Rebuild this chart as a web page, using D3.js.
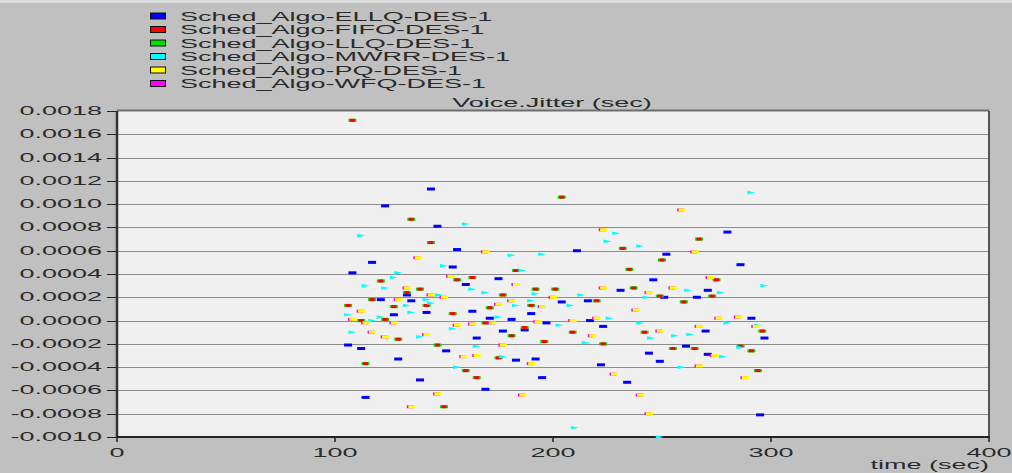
<!DOCTYPE html>
<meta charset="utf-8">
<style>
body { margin: 0; background-color: #c0c0c0; }
svg { display: block; }
text { font-family: "Liberation Sans", Arial, sans-serif; font-size: 12px; fill: #2a2a2a; }
</style>
<body>
<script src="https://cdn.jsdelivr.net/npm/d3@7"></script>
<script>
// series names and colours, as in the legend
var seriesNames = ["Sched_Algo-ELLQ-DES-1", "Sched_Algo-FIFO-DES-1", "Sched_Algo-LLQ-DES-1",
                   "Sched_Algo-MWRR-DES-1", "Sched_Algo-PQ-DES-1", "Sched_Algo-WFQ-DES-1"];
var seriesColors = ["#0000ff", "#ff0000", "#00e000", "#00ffff", "#ffff00", "#ff00ff"];

var yTicks = [-0.0010, -0.0008, -0.0006, -0.0004, -0.0002, 0, 0.0002, 0.0004, 0.0006, 0.0008,
              0.0010, 0.0012, 0.0014, 0.0016, 0.0018];
var xTicks = [0, 100, 200, 300, 400];

// [time (sec), jitter (sec)]
var ellq = [
  [108, 0.00041], [117, 0.00050], [123, 0.000985], [144, 0.00113], [147, 0.00081], [156, 0.00061],
  [154, 0.00046], [121, 0.00018], [133, 0.00022], [135, 0.00017], [127, 0.00005], [142, 0.00007],
  [106, -0.00021], [112, -0.00024], [129, -0.00033], [139, -0.00051], [114, -0.00066],
  [175, 0.00036], [160, 0.00031], [163, 0.00008], [190, 0.00006], [171, 0.00002], [181, 0.00001],
  [187, -0.00008], [177, -0.00009], [165, -0.00015], [151, -0.00026], [183, -0.00034],
  [192, -0.00033], [195, -0.00049], [169, -0.00059], [211, 0.00060],
  [252, 0.00057], [246, 0.00035], [231, 0.00026], [271, 0.00026], [266, 0.00020], [251, 0.00020],
  [216, 0.00017], [204, 0.00016], [280, 0.00076], [286, 0.00048],
  [197, -0.00002], [217, 0.00000], [223, -0.00005], [270, -0.00009], [291, 0.00002], [297, -0.00015],
  [222, -0.00038], [234, -0.00053], [244, -0.00028], [249, -0.00035], [261, -0.00022],
  [271, -0.00029], [295, -0.00081]
];
var fifo = [
  [108, 0.00172], [135, 0.00087], [144, 0.00067], [121, 0.00034], [139, 0.00027], [133, 0.00024],
  [117, 0.00018], [106, 0.00013], [127, 0.00012], [142, 0.00013], [112, 0.00000], [123, 0.00001],
  [129, -0.00016], [147, -0.00021], [114, -0.00037], [150, -0.00074],
  [183, 0.00043], [163, 0.00037], [156, 0.00035], [192, 0.00027], [177, 0.00022], [190, 0.00013],
  [171, 0.00011], [154, 0.00006], [169, -0.00002], [187, -0.00006], [181, -0.00013], [196, -0.00018],
  [175, -0.00032], [160, -0.00043], [165, -0.00049],
  [204, 0.00106], [232, 0.00062], [235, 0.00044], [250, 0.00052], [267, 0.00070], [237, 0.00028],
  [201, 0.00027], [275, 0.00035], [273, 0.00021], [260, 0.00016], [249, 0.00021], [220, 0.00017],
  [209, -0.00010], [242, -0.00010], [296, -0.00009], [223, -0.00020], [255, -0.00024],
  [265, -0.00024], [286, -0.00022], [291, -0.00026], [294, -0.00043]
];
var llq = fifo;   // LLQ sits exactly under FIFO in the picture
var mwrr = [
  [112, 0.00073], [129, 0.00041], [127, 0.00037], [114, 0.00030], [123, 0.00028], [147, 0.00022],
  [142, 0.00018], [144, 0.00015], [133, 0.00013], [106, 0.00005], [135, 0.00007], [121, 0.00003],
  [117, 0.00000], [108, -0.00010], [139, -0.00014],
  [160, 0.00083], [181, 0.00056], [195, 0.00057], [150, 0.00047], [186, 0.00043], [163, 0.00027],
  [169, 0.00024], [192, 0.00023], [148, 0.00022], [190, 0.00017], [183, 0.00013], [175, 0.00003],
  [154, -0.00007], [165, -0.00022], [177, -0.00031], [156, -0.00040],
  [229, 0.00075], [225, 0.00068], [240, 0.00064], [291, 0.00110], [297, 0.00030], [213, 0.00022],
  [208, 0.00013], [262, 0.00026], [277, 0.00024], [243, 0.00020],
  [203, -0.00004], [226, 0.00002], [240, -0.00002], [245, -0.00015], [256, -0.00013],
  [280, -0.00002], [294, -0.00004], [215, -0.00019], [263, -0.00012], [259, -0.00040],
  [278, -0.00031], [286, -0.00023], [210, -0.00092], [249, -0.00100]
];
var pq = [
  [138, 0.00054], [133, 0.00028], [144, 0.00022], [129, 0.00018], [112, 0.00008], [108, 0.00001],
  [114, -0.00002], [127, -0.00002], [117, -0.00010], [123, -0.00014], [142, -0.00012],
  [147, -0.00063], [135, -0.00074],
  [169, 0.00059], [153, 0.00038], [183, 0.00031], [150, 0.00020], [181, 0.00017], [175, 0.00014],
  [195, 0.00012], [172, -0.00002], [193, -0.00001], [163, -0.00003], [156, -0.00004],
  [177, -0.00021], [159, -0.00031], [165, -0.00030], [190, -0.00037], [186, -0.00064],
  [223, 0.00078], [259, 0.00095], [265, 0.00059], [223, 0.00028], [255, 0.00028], [272, 0.00037],
  [244, 0.00024], [200, 0.00020],
  [209, 0.00000], [220, 0.00002], [238, 0.00009], [249, -0.00009], [267, -0.00005], [276, 0.00002],
  [285, 0.00003], [293, -0.00005], [218, -0.00013], [228, -0.00046], [240, -0.00064],
  [244, -0.00080], [267, -0.00039], [274, -0.00030], [288, -0.00049]
];
var wfq = pq;     // WFQ sits exactly under PQ in the picture

var W = 1012, H = 473;
var plot = {left: 117, right: 989, top: 111, bottom: 437};

var svg = d3.select("body").append("svg")
    .attr("width", W)
    .attr("height", H);

svg.append("rect").attr("width", W).attr("height", 3).attr("fill", "#dcdcdc");

var x = d3.scaleLinear().domain([0, 400]).range([plot.left, plot.right]);
var y = d3.scaleLinear().domain([-0.0010, 0.0018]).range([plot.bottom, plot.top]);

// the original picture is stretched sideways, so every text is widened
var stretch = 2.25;
function widen(sel) {
  sel.each(function() {
    var w = this.getComputedTextLength();
    d3.select(this).attr("textLength", w * stretch).attr("lengthAdjust", "spacingAndGlyphs");
  });
}

// plot background
svg.append("rect")
    .attr("x", plot.left).attr("y", plot.top)
    .attr("width", plot.right - plot.left).attr("height", plot.bottom - plot.top)
    .attr("fill", "#f0f0f0");

// horizontal grid
svg.append("g").selectAll("line")
    .data(yTicks.slice(1, -1))
    .enter().append("line")
    .attr("x1", plot.left).attr("x2", plot.right)
    .attr("y1", function(d) { return Math.round(y(d)) + 0.5; })
    .attr("y2", function(d) { return Math.round(y(d)) + 0.5; })
    .attr("stroke", "#8c8c8c");

// frame
svg.append("line").attr("x1", plot.left).attr("x2", plot.right)
    .attr("y1", plot.top - 0.5).attr("y2", plot.top - 0.5)
    .attr("stroke", "#6e6e6e").attr("stroke-width", 2);
svg.append("line").attr("x1", plot.right).attr("x2", plot.right)
    .attr("y1", plot.top).attr("y2", plot.bottom)
    .attr("stroke", "#555").attr("stroke-width", 2);

// y axis
var yAxis = svg.append("g");
yAxis.selectAll(".ytick")
    .data(yTicks)
    .enter().append("line")
    .attr("class", "ytick")
    .attr("x1", plot.left - 10).attr("x2", plot.left)
    .attr("y1", function(d) { return Math.round(y(d)) + 0.5; })
    .attr("y2", function(d) { return Math.round(y(d)) + 0.5; })
    .attr("stroke", "#222");
var fmt = d3.format(".4f");
yAxis.selectAll(".ylabel")
    .data(yTicks)
    .enter().append("text")
    .attr("class", "ylabel")
    .attr("x", plot.left - 15)
    .attr("y", function(d) { return y(d) + 4; })
    .attr("text-anchor", "end")
    .text(function(d) { return fmt(d).replace("\u2212", "-"); })
    .call(widen);
svg.append("line").attr("x1", plot.left).attr("x2", plot.left)
    .attr("y1", plot.top).attr("y2", plot.bottom + 1)
    .attr("stroke", "#333").attr("stroke-width", 2.5);

// x axis
var xAxis = svg.append("g");
xAxis.selectAll(".xtick")
    .data(xTicks)
    .enter().append("line")
    .attr("class", "xtick")
    .attr("x1", function(d) { return x(d); }).attr("x2", function(d) { return x(d); })
    .attr("y1", plot.bottom).attr("y2", plot.bottom + 5)
    .attr("stroke", "#222").attr("stroke-width", 1.5);
xAxis.selectAll(".xlabel")
    .data(xTicks)
    .enter().append("text")
    .attr("class", "xlabel")
    .attr("x", function(d) { return x(d); })
    .attr("y", plot.bottom + 20)
    .attr("text-anchor", "middle")
    .text(function(d) { return d; })
    .call(widen);
svg.append("line").attr("x1", plot.left).attr("x2", plot.right + 1)
    .attr("y1", plot.bottom).attr("y2", plot.bottom)
    .attr("stroke", "#222").attr("stroke-width", 2);
svg.append("text")
    .attr("x", plot.right).attr("y", plot.bottom + 32)
    .attr("text-anchor", "end")
    .text("time (sec)")
    .call(widen);

// title
svg.append("text")
    .attr("x", (plot.left + plot.right) / 2 - 1).attr("y", plot.top - 4)
    .attr("text-anchor", "middle")
    .text("Voice.Jitter (sec)")
    .call(widen);

// points
var marks = svg.append("g");
function dashes(data, color, w, h, dx) {
  marks.append("g").selectAll("rect")
      .data(data)
      .enter().append("rect")
      .attr("x", function(d) { return x(d[0]) - w / 2 + dx; })
      .attr("y", function(d) { return y(d[1]) - h / 2; })
      .attr("width", w).attr("height", h)
      .attr("fill", color);
}
dashes(ellq, seriesColors[0], 8, 3, 0);
dashes(llq, seriesColors[2], 8, 3, 0);
dashes(fifo, seriesColors[1], 5, 3, 0);
marks.append("g").selectAll("path")
    .data(mwrr)
    .enter().append("path")
    .attr("d", function(d) {
      var cx = x(d[0]), cy = y(d[1]);
      return "M" + (cx - 4) + "," + (cy - 1.8) + "L" + (cx + 4) + "," + cy + "L" + (cx - 4) + "," + (cy + 1.8) + "Z";
    })
    .attr("fill", seriesColors[3]);
dashes(wfq, seriesColors[5], 7, 3, -1);
dashes(pq, seriesColors[4], 7, 3, 0.5);

// legend
var legend = svg.append("g").selectAll("g")
    .data(seriesNames)
    .enter().append("g")
    .attr("transform", function(d, i) { return "translate(150," + (12.5 + i * 13.5) + ")"; });
legend.append("rect")
    .attr("x", 0.5).attr("y", 0.5)
    .attr("width", 15).attr("height", 6)
    .attr("fill", function(d, i) { return seriesColors[i]; })
    .attr("stroke", "#111");
legend.append("text")
    .attr("x", 30).attr("y", 8)
    .text(function(d) { return d; })
    .call(widen);
</script>
</body>
